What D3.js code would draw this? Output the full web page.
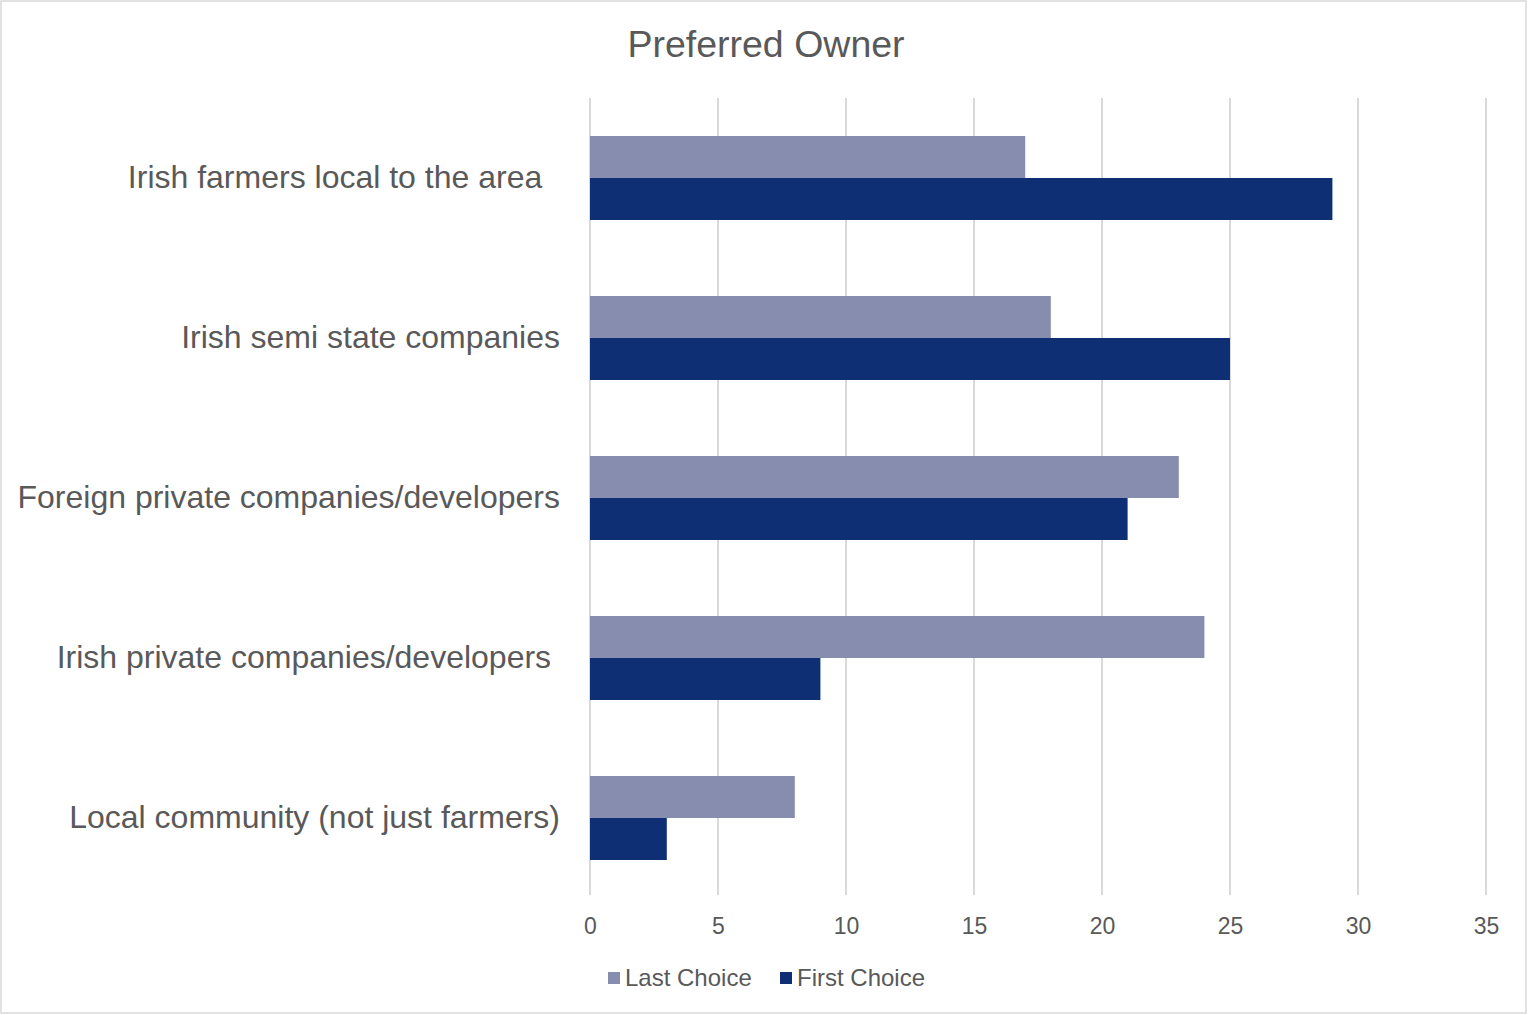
<!DOCTYPE html>
<html><head><meta charset="utf-8">
<script src="https://cdn.jsdelivr.net/npm/d3@7"></script>
<style>body{margin:0;background:#fff;font-family:"Liberation Sans",Arial,sans-serif;}</style>
</head><body>
<svg id="chart" width="1528" height="1015"></svg>
<script>
const categories = ["Irish farmers local to the area  ", "Irish semi state companies", "Foreign private companies/developers", "Irish private companies/developers ", "Local community (not just farmers)"];
const seriesNames = ["Last Choice", "First Choice"];
const lastChoice = [17, 18, 23, 24, 8];
const firstChoice = [29, 25, 21, 9, 3];
const tickValues = [0, 5, 10, 15, 20, 25, 30, 35];
const colors = ["#878daf", "#0e2f74"];

const svg = d3.select("#chart");
svg.append("rect").attr("x",1).attr("y",1).attr("width",1525).attr("height",1012)
  .attr("fill","#fff").attr("stroke","#d9d9d9").attr("stroke-width",1.5);

const plotL = 590, plotR = 1486, plotT = 98, plotB = 898;
const x = d3.scaleLinear().domain([0,35]).range([plotL,plotR]);
const y = d3.scaleBand().domain(categories).range([plotT,plotB]).paddingInner(0.475).paddingOuter(0.2375);
const ySub = d3.scaleBand().domain(seriesNames).range([0,y.bandwidth()]);

// gridlines
svg.append("g").selectAll("line").data(tickValues).join("line")
  .attr("x1",d=>x(d)).attr("x2",d=>x(d)).attr("y1",plotT).attr("y2",plotB-3)
  .attr("stroke","#d9d9d9").attr("stroke-width",2);

// x axis labels
const xAxis = d3.axisBottom(x).tickValues(tickValues).tickSize(0).tickPadding(0);
const gx = svg.append("g").attr("transform",`translate(0,${plotB+20})`).call(xAxis);
gx.select(".domain").remove();
gx.selectAll("text").attr("fill","#595959").style("font-size","23px").style("font-family","'Liberation Sans',Arial,sans-serif");

// bars
const values = [lastChoice, firstChoice];
seriesNames.forEach((s,si)=>{
  svg.append("g").selectAll("rect").data(categories).join("rect")
    .attr("x",x(0))
    .attr("y",d=>y(d)+ySub(s))
    .attr("width",(d,i)=>x(values[si][i])-x(0))
    .attr("height",ySub.bandwidth())
    .attr("fill",colors[si]);
});

// y labels
const yAxis = d3.axisLeft(y).tickSize(0).tickPadding(0);
const gy = svg.append("g").attr("transform",`translate(${plotL-30},0)`).call(yAxis);
gy.select(".domain").remove();
gy.selectAll("text").attr("fill","#595959").style("font-size","32px").style("white-space","pre")
  .style("font-family","'Liberation Sans',Arial,sans-serif");

// title
svg.append("text").attr("x",766).attr("y",57).attr("text-anchor","middle")
  .attr("fill","#595959").style("font-size","37.5px").text("Preferred Owner");

// legend
const legend = [{name:"Last Choice",x:608},{name:"First Choice",x:780}];
legend.forEach((l,i)=>{
  svg.append("rect").attr("x",l.x).attr("y",972).attr("width",12).attr("height",12).attr("fill",colors[i]);
  svg.append("text").attr("x",l.x+17).attr("y",986).attr("fill","#595959").style("font-size","24px").text(l.name);
});
</script>
</body></html>
